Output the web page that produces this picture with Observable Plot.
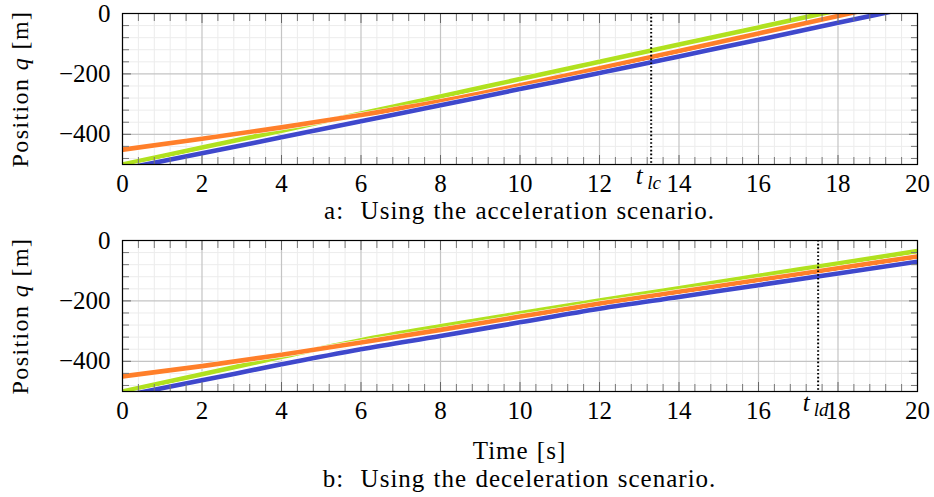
<!DOCTYPE html>
<html><head><meta charset="utf-8">
<script src="https://cdn.jsdelivr.net/npm/d3@7"></script>
<script src="https://cdn.jsdelivr.net/npm/@observablehq/plot@0.6"></script>
<style>
body{margin:0;background:#fff;}
#wrap{position:relative;width:934px;height:497px;font-family:"Liberation Serif",serif;color:#000;overflow:hidden;}
#wrap svg{position:absolute;left:0;font-family:"Liberation Serif",serif !important;}
#wrap svg text{font-family:"Liberation Serif",serif;}
.cap{position:absolute;left:122px;width:795px;text-align:center;font-size:25px;letter-spacing:1px;word-spacing:1px;line-height:26px;white-space:pre;font-family:"Liberation Serif",serif;}
.ylab{position:absolute;width:200px;height:26px;line-height:26px;font-size:24px;letter-spacing:1.4px;text-align:center;transform:rotate(-90deg);white-space:pre;font-family:"Liberation Serif",serif;}
</style></head><body><div id="wrap"></div>
<script>
// ---- data ----
const time = [0, 2, 4, 6, 8, 10, 12, 14, 16, 18, 20];
// (a) acceleration scenario
const accGreen  = [-500, -444, -388, -331, -275, -217, -160, -103, -46, 11, 68];
const accOrange = [-451, -415, -377, -336, -291, -238, -181, -124, -66, -8, 50];
const accBlue   = [-515, -463, -410, -357, -304, -250, -197, -142, -87, -31, 25];
// (b) deceleration scenario
const decGreen  = [-500, -443, -385, -330, -284, -241, -199, -158, -117, -76, -35];
const decOrange = [-450, -416, -378, -338, -296, -252, -209, -170, -131, -92, -53];
const decBlue   = [-515, -463, -410, -360, -316, -271, -226, -187, -148, -109, -70];
const tLc = 13.3;   // lane change time (a)
const tLd = 17.5;   // lane change time (b)
const xTicks = [0, 2, 4, 6, 8, 10, 12, 14, 16, 18, 20];
const yTicks = [-400, -200, 0];
const xMinor = d3.range(0, 20.001, 0.4).map(v => Math.round(v * 10) / 10).filter(v => Math.abs(v / 2 - Math.round(v / 2)) > 1e-6);
const yMinor = d3.range(-480, 0, 40).filter(v => v % 200 !== 0);

const colors = {green: "#b0e11f", orange: "#ff7f2a", blue: "#3f48cc"};
const FONT = "Liberation Serif";

function toRows(vals) { return time.map((t, i) => ({t, q: vals[i]})); }

function panel(seriesList, tMark, sub) {
  const lineMarks = [];
  for (const s of seriesList) {
    const rows = toRows(s.vals);
    lineMarks.push(Plot.line(rows, {x: "t", y: "q", stroke: "#fff", strokeWidth: 5.6, curve: "monotone-x", clip: true}));
    lineMarks.push(Plot.line(rows, {x: "t", y: "q", stroke: s.color, strokeWidth: 4.6, curve: "monotone-x", clip: true}));
  }
  const svg = Plot.plot({
    width: 934, height: 200,
    marginTop: 13, marginBottom: 36, marginLeft: 122, marginRight: 17,
    x: {domain: [0, 20]},
    y: {domain: [-500, 0]},
    style: {fontFamily: FONT, fontSize: "25px", color: "#000", background: "transparent", overflow: "visible"},
    marks: [
      Plot.gridX(xMinor, {stroke: "#ececec", strokeOpacity: 1, strokeWidth: 1}),
      Plot.gridY(yMinor, {stroke: "#ececec", strokeOpacity: 1, strokeWidth: 1}),
      Plot.gridX(xTicks, {stroke: "#c4c4c4", strokeOpacity: 1, strokeWidth: 1.2}),
      Plot.gridY(yTicks, {stroke: "#c4c4c4", strokeOpacity: 1, strokeWidth: 1.2}),
      ...lineMarks,
      Plot.ruleX([tMark], {stroke: "#000", strokeWidth: 2, strokeDasharray: "1.6,2.2"}),
      // tick marks (inward)
      Plot.axisX(xTicks, {anchor: "bottom", tickSize: -9, tickFormat: () => "", label: null, stroke: "#666"}),
      Plot.axisX(xTicks, {anchor: "top", tickSize: -9, tickFormat: () => "", label: null, stroke: "#666"}),
      Plot.axisX(xMinor, {anchor: "bottom", tickSize: -7, tickFormat: () => "", label: null, stroke: "#777"}),
      Plot.axisX(xMinor, {anchor: "top", tickSize: -7, tickFormat: () => "", label: null, stroke: "#777"}),
      Plot.axisY(yTicks, {anchor: "left", tickSize: -9, tickFormat: () => "", label: null, stroke: "#666"}),
      Plot.axisY(yTicks, {anchor: "right", tickSize: -9, tickFormat: () => "", label: null, stroke: "#666"}),
      Plot.axisY(yMinor, {anchor: "left", tickSize: -7, tickFormat: () => "", label: null, stroke: "#777"}),
      Plot.axisY(yMinor, {anchor: "right", tickSize: -7, tickFormat: () => "", label: null, stroke: "#777"}),
      // labels
      Plot.axisX(xTicks, {anchor: "bottom", tickSize: 0, tickPadding: 10, label: null, fontSize: 25, fontFamily: FONT}),
      Plot.axisY(yTicks, {anchor: "left", tickSize: 0, tickPadding: 12, label: null, fontSize: 25, fontFamily: FONT}),
      Plot.text([tMark], {x: d => d, frameAnchor: "bottom", text: () => "t", fontStyle: "italic", fontSize: 25, fontFamily: FONT, dx: -12, dy: 19}),
      Plot.text([tMark], {x: d => d, frameAnchor: "bottom", text: () => sub, fontStyle: "italic", fontSize: 19, fontFamily: FONT, dx: 3, dy: 24}),
      Plot.frame({stroke: "#000", strokeWidth: 1.2})
    ]
  });
  svg.setAttribute("font-family", FONT);
  return svg;
}

const wrap = document.getElementById("wrap");
const p1 = panel([
  {vals: accGreen, color: colors.green},
  {vals: accOrange, color: colors.orange},
  {vals: accBlue, color: colors.blue}
], tLc, "lc");
p1.style.top = "0px";
wrap.appendChild(p1);

const p2 = panel([
  {vals: decGreen, color: colors.green},
  {vals: decOrange, color: colors.orange},
  {vals: decBlue, color: colors.blue}
], tLd, "ld");
p2.style.top = "227px";
wrap.appendChild(p2);

function addDiv(cls, html, css) {
  const d = document.createElement("div");
  d.className = cls; d.innerHTML = html;
  Object.assign(d.style, css);
  wrap.appendChild(d);
}
addDiv("cap", "a:  Using the acceleration scenario.", {top: "198px"});
addDiv("cap", "Time [s]", {top: "438px"});
addDiv("cap", "b:  Using the deceleration scenario.", {top: "466px"});
addDiv("ylab", "Position <i>q</i> [m]", {left: (20 - 100) + "px", top: (88.5 - 13) + "px"});
addDiv("ylab", "Position <i>q</i> [m]", {left: (20 - 100) + "px", top: (315.5 - 13) + "px"});
</script>
</body></html>
